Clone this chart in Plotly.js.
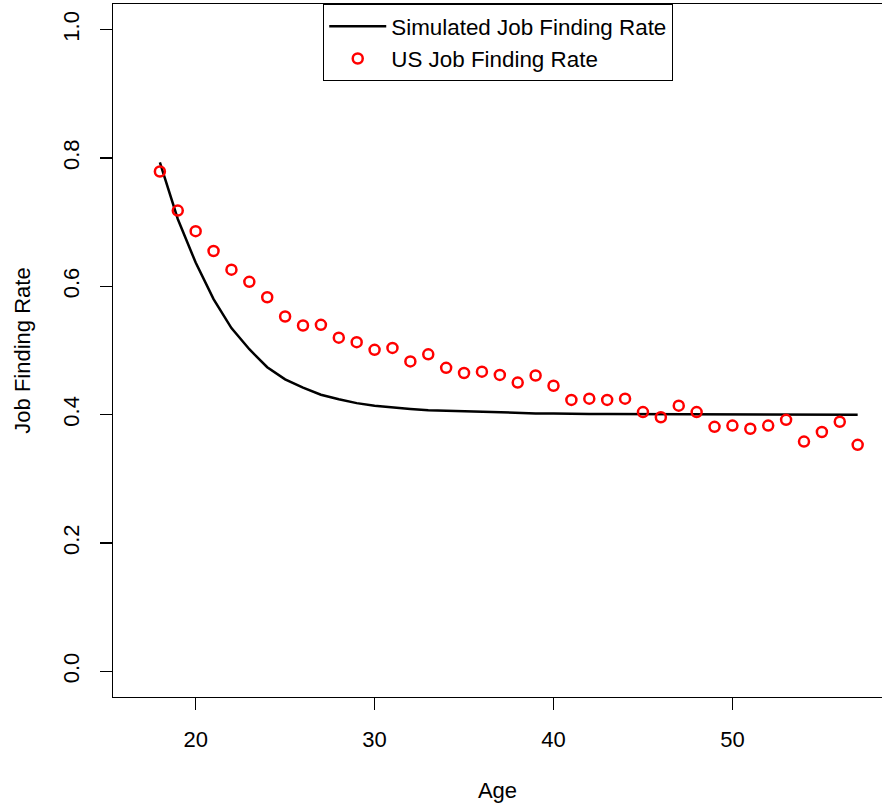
<!DOCTYPE html>
<html>
<head>
<meta charset="utf-8">
<script src="https://cdn.plot.ly/plotly-3.0.1.min.js"></script>
<style>html,body{margin:0;padding:0;background:#fff;}#chart{width:882px;height:808px;}</style>
</head>
<body>
<div id="chart"></div>
<script>
// Ages
var ages = [18,19,20,21,22,23,24,25,26,27,28,29,30,31,32,33,34,35,36,37,38,39,40,41,42,43,44,45,46,47,48,49,50,51,52,53,54,55,56,57];
// Simulated job finding rate (model)
var simulatedRate = [0.793,0.705,0.637,0.580,0.535,0.502,0.474,0.455,0.442,0.431,0.424,0.418,0.414,0.411,0.409,0.407,0.406,0.405,0.404,0.403,0.403,0.402,0.402,0.401,0.401,0.401,0.401,0.401,0.400,0.400,0.400,0.400,0.400,0.400,0.400,0.400,0.400,0.400,0.400,0.400];
// US job finding rate (data)
var usRate = [0.779,0.718,0.686,0.655,0.626,0.607,0.583,0.553,0.539,0.540,0.520,0.513,0.501,0.504,0.483,0.494,0.473,0.465,0.467,0.462,0.450,0.461,0.445,0.423,0.425,0.423,0.425,0.404,0.396,0.414,0.404,0.381,0.383,0.378,0.383,0.392,0.358,0.373,0.389,0.353];
var seriesNames = ["Simulated Job Finding Rate", "US Job Finding Rate"];
var xTicks = [20,30,40,50];
var yTicks = [0.0,0.2,0.4,0.6,0.8,1.0];
var yTickText = ["0.0","0.2","0.4","0.6","0.8","1.0"];

var font = {family: "Liberation Sans, Arial, sans-serif", size: 22, color: "#000"};
var legendFont = {family: "Liberation Sans, Arial, sans-serif", size: 22.4, color: "#000"};

var traces = [
  {x: ages, y: simulatedRate, type: "scatter", mode: "lines", name: seriesNames[0],
   line: {color: "#000000", width: 2.5}},
  {x: ages, y: usRate, type: "scatter", mode: "markers", name: seriesNames[1],
   marker: {symbol: "circle-open", size: 10, color: "#FF0000", line: {width: 2.5, color: "#FF0000"}}}
];

var layout = {
  width: 882, height: 808,
  margin: {l: 113, r: 0, t: 4, b: 111, pad: 0},
  paper_bgcolor: "#fff", plot_bgcolor: "#fff",
  font: font,
  showlegend: true,
  legend: {
    x: 0.273, xanchor: "left", y: 1, yanchor: "top",
    bgcolor: "#fff", bordercolor: "#000", borderwidth: 1.3,
    font: legendFont, itemwidth: 57, tracegroupgap: 0
  },
  xaxis: {
    range: [15.38, 58.36], autorange: false,
    tickvals: xTicks, ticktext: xTicks.map(String),
    ticks: "outside", ticklen: 12, tickwidth: 1.3, tickcolor: "#000",
    showline: true, linecolor: "#000", linewidth: 1.3, mirror: true,
    showgrid: false, zeroline: false,
    ticklabelstandoff: 10,
    tickfont: font,
    title: {text: "Age", font: font, standoff: 32}
  },
  yaxis: {
    range: [-0.04, 1.04], autorange: false,
    tickvals: yTicks, ticktext: yTickText,
    ticks: "outside", ticklen: 12, tickwidth: 1.3, tickcolor: "#000",
    showline: true, linecolor: "#000", linewidth: 1.3, mirror: false,
    showgrid: false, zeroline: false,
    tickangle: -90,
    ticklabelstandoff: 12,
    tickfont: font,
    title: {text: "Job Finding Rate", font: font, standoff: 22}
  }
};

Plotly.newPlot("chart", traces, layout, {staticPlot: true, displayModeBar: false});
</script>
</body>
</html>
